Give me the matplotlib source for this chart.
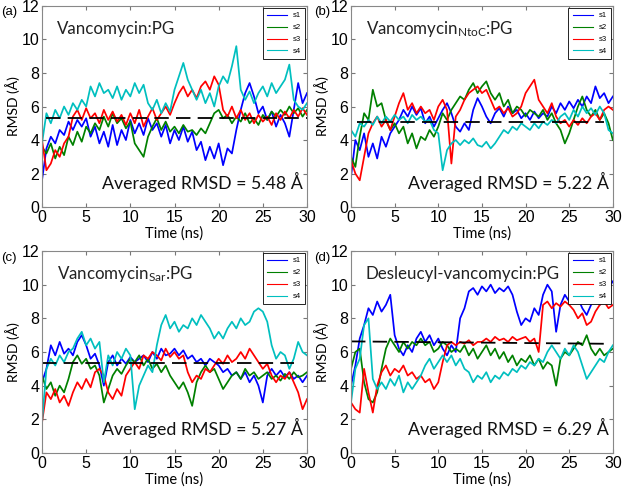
import numpy as np
import matplotlib
matplotlib.use("Agg")
import matplotlib.pyplot as plt

plt.rcParams["font.family"] = ["Liberation Sans", "DejaVu Sans"]
plt.rcParams["mathtext.fontset"] = "custom"
plt.rcParams["mathtext.rm"] = "Lato"

# RMSD traces, one value every 0.5 ns from 0 to 30 ns
a_s1 = [1.6, 3.5, 4.2, 3.8, 4.6, 4.3, 5.1, 4.6, 5.2, 4.8, 5.3, 4.2, 4.8, 3.8, 4.5, 3.6, 4.9, 3.7, 4.6, 4.0,
        5.2, 4.4, 5.0, 4.3, 5.3, 4.6, 5.0, 4.2, 4.9, 3.8, 4.6, 4.0, 4.8, 3.9, 4.5, 3.4, 3.9, 2.8, 3.6, 2.9,
        3.8, 2.5, 3.5, 3.2, 4.6, 5.8, 6.8, 7.4, 6.6, 5.6, 6.0, 5.2, 5.7, 4.8, 5.5, 5.0, 4.2, 5.8, 7.4, 6.2, 6.8]
a_s2 = [3.6, 3.2, 3.8, 2.9, 3.6, 3.1, 4.2, 3.7, 4.5, 3.9, 4.8, 4.4, 5.0, 4.6, 5.4, 4.8, 5.6, 5.0, 5.3, 4.7,
        5.1, 3.8, 3.4, 3.0, 4.2, 4.8, 5.3, 4.6, 5.1, 4.5, 4.8, 4.4, 4.9, 4.5, 4.6, 4.3, 4.7, 4.4, 5.0, 5.6,
        5.8, 5.3, 5.5, 5.0, 5.4, 5.1, 5.6, 5.0, 5.3, 4.9, 5.5, 5.2, 5.7, 5.4, 5.8, 5.5, 6.0, 5.6, 5.9, 5.4, 5.8]
a_s3 = [4.0, 2.2, 2.6, 3.4, 3.0, 3.8, 4.2, 5.4, 5.8, 5.2, 5.9, 5.3, 5.6, 5.0, 5.8, 5.2, 5.7, 5.1, 5.5, 4.9,
        5.6, 5.0, 5.8, 4.8, 5.4, 5.9, 5.2, 5.6, 6.0, 5.5, 6.2, 6.8, 7.2, 6.6, 7.0, 6.5, 7.2, 7.5, 7.0, 7.8,
        7.3, 5.8, 5.4, 6.0, 5.3, 5.8, 5.2, 5.6, 5.0, 5.5, 5.1, 5.4, 4.9, 5.6, 5.2, 5.7, 5.3, 5.8, 5.4, 5.9, 5.5]
a_s4 = [3.8, 5.6, 5.0, 5.8, 5.3, 6.0, 5.5, 6.2, 5.8, 6.4, 6.0, 7.2, 6.6, 7.4, 6.8, 7.0, 6.5, 7.2, 6.4, 7.0,
        6.6, 7.4, 6.8, 7.3, 6.2, 5.8, 6.4, 5.6, 6.2, 5.7, 7.0, 7.8, 8.6, 7.6, 7.0, 6.4, 7.0, 6.2, 6.8, 6.0,
        7.2, 7.8, 7.4, 8.4, 9.6, 7.0, 6.4, 6.9, 6.2, 6.8, 7.2, 6.6, 7.4, 6.8, 7.2, 7.6, 8.5, 6.4, 6.0, 5.8, 6.2]

b_s1 = [1.8, 4.0, 3.4, 4.4, 3.0, 3.8, 2.9, 4.2, 3.6, 4.4, 4.8, 5.2, 5.8, 5.4, 6.0, 5.5, 5.9, 5.0, 5.4, 4.8,
        5.3, 5.8, 6.2, 5.6, 4.8, 4.5, 5.0, 4.6, 5.8, 6.5, 6.0, 5.4, 5.0, 5.6, 5.9, 5.4, 6.0, 5.6, 5.8, 5.3,
        5.6, 5.2, 5.7, 5.3, 5.6, 5.4, 6.0, 5.6, 6.2, 5.8, 6.3, 5.9, 6.4, 6.0, 6.6, 6.2, 7.2, 6.5, 6.8, 6.2, 6.6]
b_s2 = [3.0, 2.4, 4.2, 5.6, 5.2, 7.0, 6.0, 6.2, 5.2, 4.6, 5.0, 4.4, 4.8, 3.8, 4.4, 3.5, 4.2, 4.0, 4.6, 4.2,
        4.8, 5.6, 5.2, 5.8, 6.2, 6.6, 6.4, 7.0, 7.4, 6.8, 7.2, 7.5, 6.8, 6.4, 6.8, 6.0, 6.4, 5.6, 6.0, 5.8,
        5.4, 5.8, 5.6, 5.4, 5.8, 5.2, 5.6, 5.0, 4.6, 3.8, 4.4, 5.2, 6.0, 6.6, 5.8, 5.4, 5.8, 5.2, 5.6, 5.0, 4.0]
b_s3 = [2.8, 2.0, 1.6, 3.0, 4.4, 5.0, 5.4, 4.8, 5.2, 4.6, 5.4, 6.2, 6.8, 5.8, 6.2, 5.6, 6.0, 5.6, 5.8, 5.2,
        6.0, 6.4, 5.8, 2.6, 5.4, 5.8, 6.4, 6.8, 7.0, 7.2, 6.8, 7.0, 6.4, 5.8, 6.0, 5.6, 5.9, 5.4, 5.6, 6.0,
        6.8, 7.2, 7.6, 6.4, 6.0, 5.6, 6.2, 5.4, 5.0, 5.2, 4.8, 5.2, 4.9, 5.3, 5.0, 5.4, 5.6, 5.2, 5.8, 6.0, 5.8]
b_s4 = [4.6, 4.2, 5.0, 4.8, 5.2, 4.9, 5.4, 5.0, 5.4, 5.1, 5.5, 5.2, 5.4, 5.0, 5.5, 5.2, 5.4, 5.1, 5.2, 4.6,
        4.4, 2.2, 3.4, 3.8, 4.0, 3.7, 4.0, 3.8, 4.1, 3.7, 3.6, 3.9, 3.5, 3.8, 4.2, 4.6, 4.4, 4.8, 4.6, 5.0,
        4.8, 4.6, 5.0, 4.7, 5.1, 4.9, 5.2, 5.0, 5.4, 5.6, 5.2, 5.8, 5.4, 6.0, 5.6, 5.9, 5.5, 6.0, 5.6, 4.6, 4.4]

c_s1 = [4.2, 5.0, 6.4, 5.8, 6.6, 5.9, 6.2, 5.8, 6.6, 7.0, 6.4, 5.6, 5.9, 5.2, 4.0, 5.4, 5.8, 5.2, 5.6, 5.3,
        5.7, 5.4, 5.6, 5.8, 5.4, 6.0, 5.6, 6.2, 5.8, 5.9, 6.2, 5.8, 6.1, 5.6, 5.8, 5.4, 5.6, 5.2, 5.6, 5.4,
        5.2, 4.8, 5.0, 4.6, 4.8, 4.4, 4.8, 4.2, 4.6, 4.0, 3.0, 4.6, 5.0, 4.6, 4.9, 4.5, 4.8, 4.4, 4.6, 4.2, 4.6]
c_s2 = [4.6, 3.8, 4.2, 3.4, 4.0, 3.6, 4.4, 5.4, 5.8, 5.3, 5.6, 5.0, 5.2, 4.6, 3.0, 3.8, 4.6, 5.0, 4.7, 5.2,
        5.6, 5.4, 5.8, 5.2, 5.6, 5.0, 5.3, 4.8, 5.2, 4.6, 4.2, 3.8, 4.2, 3.6, 2.8, 4.2, 4.8, 5.2, 4.8, 5.0,
        4.4, 3.8, 4.2, 4.6, 4.8, 4.4, 5.0, 4.6, 4.8, 4.4, 4.6, 4.8, 4.4, 4.6, 4.3, 4.7, 4.4, 4.8, 4.5, 4.6, 4.8]
c_s3 = [1.8, 3.6, 3.2, 3.8, 3.0, 3.4, 2.8, 3.6, 4.2, 3.8, 4.4, 3.9, 4.8, 5.0, 4.6, 3.6, 3.2, 3.8, 3.4, 4.6,
        5.0, 5.4, 5.0, 5.8, 5.6, 6.0, 5.8, 5.5, 6.2, 5.7, 6.0, 5.6, 5.8, 4.8, 4.2, 4.6, 4.4, 5.0, 4.8, 5.2,
        5.6, 5.3, 5.8, 5.4, 5.6, 6.0, 5.6, 6.2, 5.8, 5.4, 5.0, 5.3, 4.6, 4.2, 4.6, 4.4, 4.8, 4.2, 3.6, 2.6, 3.2]
c_s4 = [1.8, 5.0, 5.6, 5.2, 5.8, 5.4, 6.0, 6.2, 6.8, 7.2, 6.4, 6.8, 6.2, 6.6, 4.2, 5.8, 5.2, 6.0, 5.6, 6.2,
        5.8, 2.6, 4.0, 4.6, 5.2, 4.8, 6.4, 7.6, 8.2, 7.4, 7.8, 7.2, 7.6, 7.4, 8.0, 7.6, 8.2, 7.8, 7.4, 6.8,
        7.2, 6.8, 7.4, 7.8, 7.4, 8.0, 7.6, 7.8, 8.4, 8.6, 8.4, 7.8, 6.4, 5.6, 6.0, 5.8, 5.0, 5.6, 6.6, 6.0, 5.8]

d_s1 = [4.0, 5.2, 6.8, 7.6, 8.6, 8.2, 9.0, 8.4, 8.8, 9.4, 7.0, 6.2, 5.8, 6.4, 6.0, 6.8, 7.2, 6.6, 7.0, 6.4,
        6.8, 6.2, 5.8, 6.4, 6.0, 8.0, 8.6, 9.6, 9.8, 9.4, 9.9, 9.6, 10.0, 9.5, 9.8, 9.6, 9.9, 9.4, 8.4, 7.6,
        8.0, 7.8, 8.6, 8.2, 9.4, 10.0, 9.6, 7.2, 8.8, 9.4, 9.0, 9.6, 9.2, 8.6, 8.2, 8.8, 9.2, 8.8, 9.4, 9.8, 10.2]
d_s2 = [5.0, 6.0, 6.2, 4.2, 3.2, 3.0, 3.6, 5.0, 6.2, 6.8, 6.4, 6.0, 6.6, 6.2, 6.6, 6.4, 6.8, 6.4, 6.6, 6.0,
        6.2, 6.6, 6.4, 6.0, 6.2, 6.0, 6.4, 5.8, 6.2, 5.6, 6.0, 6.4, 5.8, 6.2, 5.6, 6.0, 5.4, 5.8, 5.2, 5.6,
        5.4, 5.8, 5.2, 5.6, 5.0, 5.4, 5.2, 4.0, 5.6, 6.0, 5.8, 6.2, 6.6, 6.4, 7.0, 6.2, 5.8, 6.2, 5.8, 6.0, 6.2]
d_s3 = [3.0, 2.6, 2.4, 5.0, 3.6, 2.4, 4.0, 4.8, 5.2, 4.6, 5.0, 4.8, 5.2, 4.6, 4.8, 4.4, 4.6, 4.2, 4.4, 3.8,
        4.2, 5.4, 6.4, 6.6, 6.4, 6.6, 6.5, 6.7, 6.4, 6.6, 6.6, 6.8, 6.6, 6.9, 6.7, 6.8, 6.6, 6.9, 6.7, 6.8,
        6.9, 6.6, 6.8, 6.0, 8.8, 9.0, 8.6, 8.9, 8.7, 9.0, 8.8, 8.5, 8.0, 8.3, 7.6, 7.8, 8.4, 8.8, 9.0, 8.6, 8.8]
d_s4 = [3.0, 5.0, 5.6, 7.6, 8.0, 4.4, 3.8, 4.2, 3.8, 4.4, 4.0, 4.6, 3.6, 4.2, 3.8, 4.2, 4.6, 5.2, 5.6, 5.0,
        5.4, 5.8, 5.4, 5.8, 5.2, 5.6, 5.0, 4.8, 4.2, 4.6, 4.4, 4.8, 4.2, 4.6, 4.4, 4.8, 4.6, 5.0, 4.8, 5.2,
        5.0, 5.4, 5.2, 5.6, 5.4, 6.0, 6.4, 6.0, 5.6, 6.2, 5.8, 6.4, 6.0, 5.2, 4.4, 4.8, 5.2, 5.6, 5.4, 6.0, 6.4]

series_names = ["s1", "s2", "s3", "s4"]
series_colors = ["#0000ff", "#008000", "#ff0000", "#00bfbf"]
panel_tags = ["(a)", "(b)", "(c)", "(d)"]
panel_titles = [r"Vancomycin:PG", r"Vancomycin$\mathregular{_{NtoC}}$:PG",
                r"Vancomycin$\mathregular{_{Sar}}$:PG", r"Desleucyl-vancomycin:PG"]
avg_text = ["5.48", "5.22", "5.27", "6.29"]
# dashed average line: (start time, end time) and (start level, end level)
avg_t = [(0.5, 30.0), (0.7, 29.0), (0.0, 28.5), (0.0, 29.0)]
avg_level = [(5.33, 5.33), (5.07, 5.07), (5.37, 5.37), (6.63, 6.49)]

panels = [[a_s1, a_s2, a_s3, a_s4], [b_s1, b_s2, b_s3, b_s4],
          [c_s1, c_s2, c_s3, c_s4], [d_s1, d_s2, d_s3, d_s4]]

fig = plt.figure(figsize=(6.25, 4.92), dpi=100)
boxes = [(0.0672, 0.579, 0.424, 0.409), (0.5616, 0.579, 0.419, 0.409),
         (0.0672, 0.0793, 0.424, 0.4105), (0.5616, 0.0793, 0.419, 0.4105)]
tag_pos = [(0.002, 0.976), (0.503, 0.976), (0.002, 0.476), (0.503, 0.476)]

for i, traces in enumerate(panels):
    ax = fig.add_axes(boxes[i])
    for vals, name, col in zip(traces, series_names, series_colors):
        t = np.linspace(0, 30, len(vals))
        ax.plot(t, vals, color=col, lw=1.25, label=name)
    ax.plot(avg_t[i], avg_level[i], color="black", lw=1.3, dashes=(8, 4))
    ax.set_xlim(0, 30)
    ax.set_ylim(0, 12)
    ax.set_xticks(range(0, 31, 5))
    ax.set_yticks(range(0, 13, 2))
    ax.tick_params(direction="in", length=3, labelsize=11.5, pad=2,
                   top=True, right=True, color="#777777")
    for sp in ax.spines.values():
        sp.set_color("#888888")
        sp.set_linewidth(0.8)
    ax.set_xlabel("Time (ns)", fontsize=10.5, family="Lato", labelpad=1)
    ax.set_ylabel("RMSD (Å)", fontsize=10, family="Lato", labelpad=1)
    ax.text(0.057, 0.86, panel_titles[i], transform=ax.transAxes,
            fontsize=12.2, family="Lato", color="#222222")
    ax.text(0.985, 0.09, f"Averaged RMSD = {avg_text[i]} Å", transform=ax.transAxes,
            ha="right", fontsize=12.8, family="Lato", color="#111111")
    leg = ax.legend(loc="upper right", fontsize=5.5, handlelength=2.6, borderaxespad=0.25,
                    fancybox=False, framealpha=1, labelspacing=0.6, borderpad=0.55)
    leg.get_frame().set_edgecolor("black")
    leg.get_frame().set_linewidth(0.6)
    for ln in leg.get_lines():
        ln.set_linewidth(0.8)
    fig.text(tag_pos[i][0], tag_pos[i][1], panel_tags[i], fontsize=9.5, va="center")

fig.savefig("out.png", dpi=100)
